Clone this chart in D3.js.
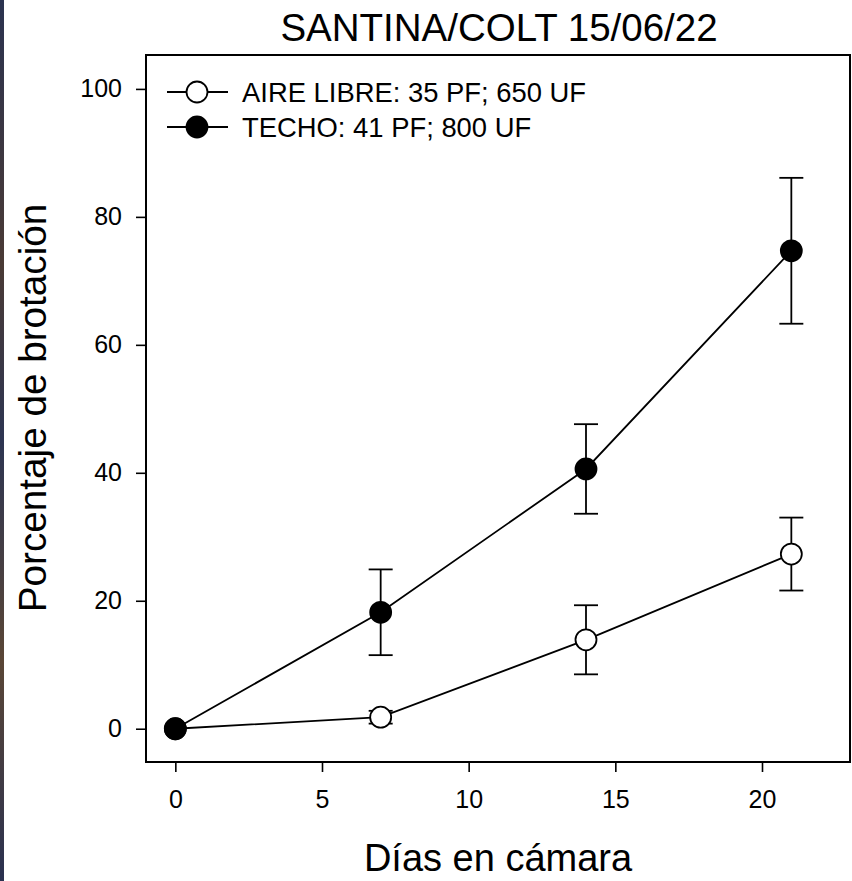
<!DOCTYPE html>
<html>
<head>
<meta charset="utf-8">
<script src="https://cdn.jsdelivr.net/npm/d3@7"></script>
<style>
  html, body { margin: 0; padding: 0; background: #fff; }
  svg { display: block; }
  text { font-family: "Liberation Sans", Arial, sans-serif; fill: #000; }
</style>
</head>
<body>
<svg id="chart" width="852" height="881"></svg>
<script>
// Sprouting percentage over days in chamber, two storage conditions
const days = [0, 7, 14, 21];
const aireLibre = [0, 1.8, 13.9, 27.3];
const aireLibreErr = [0, 1.0, 5.4, 5.7];
const techo = [0, 18.2, 40.6, 74.7];
const techoErr = [0, 6.7, 7.0, 11.4];
const xTicks = [0, 5, 10, 15, 20];
const yTicks = [0, 20, 40, 60, 80, 100];
const seriesNames = ["AIRE LIBRE: 35 PF; 650 UF", "TECHO: 41 PF; 800 UF"];

const svg = d3.select("#chart");
const W = 852, H = 881;
const plot = { left: 146, right: 850, top: 55, bottom: 762 };

svg.append("rect").attr("width", W).attr("height", H).attr("fill", "#fff");

// thin dark band at the left edge
const grad = svg.append("defs").append("linearGradient")
  .attr("id", "edge").attr("x1", 0).attr("y1", 0).attr("x2", 0).attr("y2", 1);
[["0", "#2b3350"], ["0.3", "#4a3a35"], ["0.5", "#2d3552"], ["0.75", "#5a4636"], ["1", "#2a3150"]]
  .forEach(([o, c]) => grad.append("stop").attr("offset", o).attr("stop-color", c));
svg.append("rect").attr("x", 0).attr("y", 0).attr("width", 4).attr("height", H).attr("fill", "url(#edge)");

const x = d3.scaleLinear().domain([-1, 23]).range([plot.left, plot.right]);
const y = d3.scaleLinear().domain([-5.2, 105.3]).range([plot.bottom, plot.top]);

// frame
svg.append("rect")
  .attr("x", plot.left).attr("y", plot.top)
  .attr("width", plot.right - plot.left).attr("height", plot.bottom - plot.top)
  .attr("fill", "none").attr("stroke", "#000").attr("stroke-width", 2);

// axes
const xAxis = svg.append("g").attr("transform", `translate(0,${plot.bottom})`)
  .call(d3.axisBottom(x).tickValues(xTicks).tickSize(10).tickPadding(18).tickFormat(d3.format("d")));
const yAxis = svg.append("g").attr("transform", `translate(${plot.left},0)`)
  .call(d3.axisLeft(y).tickValues(yTicks).tickSize(10).tickPadding(14).tickFormat(d3.format("d")));
[xAxis, yAxis].forEach(g => {
  g.select(".domain").remove();
  g.selectAll(".tick line").attr("stroke", "#000").attr("stroke-width", 1.6);
  g.selectAll(".tick text").style("font-size", "25px").attr("fill", "#000");
});

// series
const series = [
  { vals: aireLibre, err: aireLibreErr, fill: "#fff" },
  { vals: techo, err: techoErr, fill: "#000" }
];
const line = d3.line().x((d, i) => x(days[i])).y(d => y(d));
const capW = 12;

series.forEach(s => {
  svg.append("path").datum(s.vals).attr("d", line)
    .attr("fill", "none").attr("stroke", "#000").attr("stroke-width", 1.8);
  const eb = svg.append("g");
  s.vals.forEach((v, i) => {
    const e = s.err[i];
    if (!e) return;
    const cx = x(days[i]);
    eb.append("line").attr("x1", cx).attr("x2", cx).attr("y1", y(v + e)).attr("y2", y(v - e))
      .attr("stroke", "#000").attr("stroke-width", 1.8);
    [v + e, v - e].forEach(t => eb.append("line")
      .attr("x1", cx - capW).attr("x2", cx + capW).attr("y1", y(t)).attr("y2", y(t))
      .attr("stroke", "#000").attr("stroke-width", 1.8));
  });
});
series.forEach(s => {
  svg.append("g").selectAll("circle").data(s.vals).join("circle")
    .attr("cx", (d, i) => x(days[i])).attr("cy", d => y(d)).attr("r", 10.5)
    .attr("fill", s.fill).attr("stroke", "#000").attr("stroke-width", 1.8);
});

// legend
const leg = svg.append("g");
seriesNames.forEach((name, i) => {
  const ly = 92 + i * 35;
  leg.append("line").attr("x1", 167).attr("x2", 228).attr("y1", ly).attr("y2", ly)
    .attr("stroke", "#000").attr("stroke-width", 1.8);
  leg.append("circle").attr("cx", 197).attr("cy", ly).attr("r", 10.5)
    .attr("fill", series[i].fill).attr("stroke", "#000").attr("stroke-width", 1.8);
  leg.append("text").attr("x", 242).attr("y", ly + 10).style("font-size", "27.4px").text(name);
});

// titles
svg.append("text").attr("x", 499).attr("y", 41).attr("text-anchor", "middle")
  .style("font-size", "38.5px").text("SANTINA/COLT 15/06/22");
svg.append("text").attr("x", 498).attr("y", 871).attr("text-anchor", "middle")
  .style("font-size", "38px").text("Días en cámara");
svg.append("text").attr("transform", "translate(46,408) rotate(-90)").attr("text-anchor", "middle")
  .style("font-size", "38.7px").text("Porcentaje de brotación");
</script>
</body>
</html>
